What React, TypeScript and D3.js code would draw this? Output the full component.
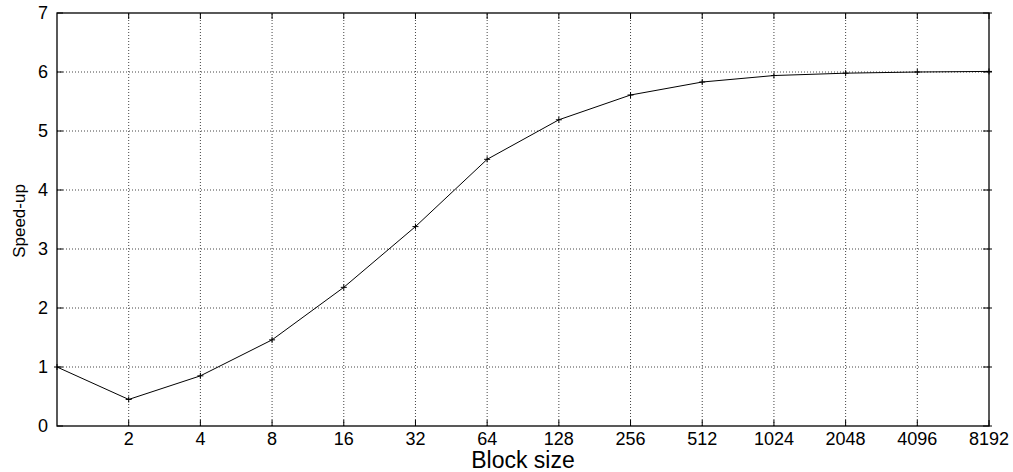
import React from "react";
import * as d3 from "d3";

const blockSizes = [1, 2, 4, 8, 16, 32, 64, 128, 256, 512, 1024, 2048, 4096, 8192];
const speedUp = [1.0, 0.45, 0.85, 1.46, 2.35, 3.38, 4.52, 5.19, 5.61, 5.83, 5.94, 5.98, 6.0, 6.01];
const xTicks = [2, 4, 8, 16, 32, 64, 128, 256, 512, 1024, 2048, 4096, 8192];
const yTicks = [0, 1, 2, 3, 4, 5, 6, 7];

const W = 1013, H = 472;
const M = { left: 57, right: 1013 - 989, top: 13, bottom: 472 - 426 };

export default function App() {
  const x = d3.scaleLog().base(2).domain([1, 8192]).range([M.left, W - M.right]);
  const y = d3.scaleLinear().domain([0, 7]).range([H - M.bottom, M.top]);
  const line = d3.line<number>().x((_, i) => x(blockSizes[i])).y((d) => y(d));
  const font = "Liberation Sans, Arial, Helvetica, sans-serif";
  const x0 = x(1), x1 = x(8192), y0 = y(0), y1 = y(7);
  return (
    <svg width={W} height={H} style={{ position: "absolute", left: 0, top: 0 }} fontFamily={font}>
      <rect width={W} height={H} fill="#fff" />
      {/* grid */}
      {yTicks.filter((t) => t > 0 && t < 7).map((t) => (
        <line key={"gy" + t} x1={x0} x2={x1} y1={y(t)} y2={y(t)} stroke="#444" strokeWidth={1} strokeDasharray="1,2" />
      ))}
      {xTicks.filter((t) => t < 8192).map((t) => (
        <line key={"gx" + t} x1={x(t)} x2={x(t)} y1={y0} y2={y1} stroke="#444" strokeWidth={1} strokeDasharray="1,2" />
      ))}
      {/* ticks */}
      {yTicks.map((t) => (
        <g key={"ty" + t}>
          <line x1={x0} x2={x0 + 6} y1={y(t)} y2={y(t)} stroke="#000" />
          <line x1={x1 - 6} x2={x1 + 3} y1={y(t)} y2={y(t)} stroke="#000" />
          <text x={48} y={y(t)} dy="0.36em" textAnchor="end" fontSize={18} fill="#000">{t}</text>
        </g>
      ))}
      {xTicks.map((t) => (
        <g key={"tx" + t}>
          <line x1={x(t)} x2={x(t)} y1={y0} y2={y0 - 6} stroke="#000" />
          <line x1={x(t)} x2={x(t)} y1={y1} y2={y1 + 6} stroke="#000" />
          <text x={x(t)} y={445} textAnchor="middle" fontSize={18} fill="#000">{t}</text>
        </g>
      ))}
      {/* frame */}
      <rect x={x0} y={y1} width={x1 - x0} height={y0 - y1} fill="none" stroke="#000" strokeWidth={1.3} />
      {/* data */}
      <path d={line(speedUp) || ""} fill="none" stroke="#000" strokeWidth={1} />
      {speedUp.map((v, i) => (
        <g key={"m" + i} stroke="#000" strokeWidth={1}>
          <line x1={x(blockSizes[i]) - 3} x2={x(blockSizes[i]) + 3} y1={y(v)} y2={y(v)} />
          <line x1={x(blockSizes[i])} x2={x(blockSizes[i])} y1={y(v) - 3} y2={y(v) + 3} />
        </g>
      ))}
      <text x={(x0 + x1) / 2} y={468} textAnchor="middle" fontSize={23} fill="#000">Block size</text>
      <text transform={`translate(25,221) rotate(-90)`} textAnchor="middle" fontSize={17} fill="#000">Speed-up</text>
    </svg>
  );
}
